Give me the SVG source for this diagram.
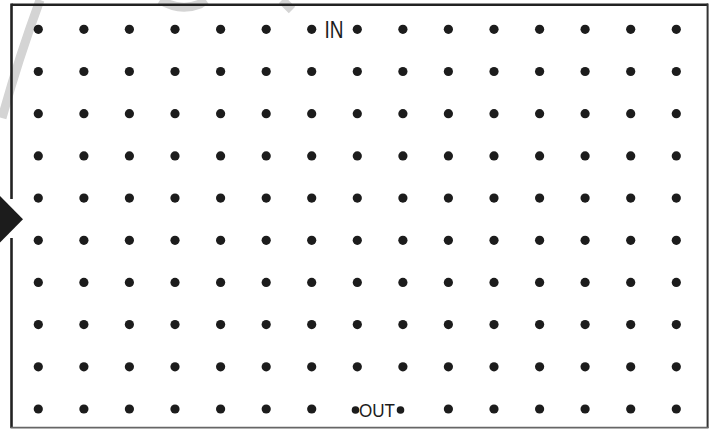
<svg xmlns="http://www.w3.org/2000/svg" xmlns:xlink="http://www.w3.org/1999/xlink" width="716" height="429" viewBox="0 0 716 429">
  <style>
    .dot { fill: #1c1c1c; }
    .sdot { fill: #1c1c1c; }
    .lbl { font-family: "Liberation Sans", "DejaVu Sans", sans-serif; fill: #1c1c1c; }
    .wm { fill: none; stroke: #d4d4d4; stroke-width: 9; stroke-linecap: butt; }
  </style>
  <defs>
    <circle id="d" r="4.6" class="dot"/>
    <g id="row">
      <use xlink:href="#d" x="38.3"/>
      <use xlink:href="#d" x="83.9"/>
      <use xlink:href="#d" x="129.4"/>
      <use xlink:href="#d" x="175.0"/>
      <use xlink:href="#d" x="220.6"/>
      <use xlink:href="#d" x="266.2"/>
      <use xlink:href="#d" x="311.7"/>
      <use xlink:href="#d" x="357.3"/>
      <use xlink:href="#d" x="402.9"/>
      <use xlink:href="#d" x="448.4"/>
      <use xlink:href="#d" x="494.0"/>
      <use xlink:href="#d" x="539.6"/>
      <use xlink:href="#d" x="585.1"/>
      <use xlink:href="#d" x="630.7"/>
      <use xlink:href="#d" x="676.3"/>
    </g>
  </defs>
  <rect width="716" height="429" fill="#ffffff"/>
  <g id="watermark">
    <path class="wm" d="M2,118 Q18,60 40,0"/>
    <path class="wm" d="M160,0 Q180,12 200,4 L206,0"/>
    <path class="wm" d="M282,0 L292,10"/>
  </g>
  <g id="frame">
    <line x1="11.5" y1="4.7" x2="708" y2="4.7" stroke="#222" stroke-width="2.6"/>
    <line x1="11.5" y1="3.5" x2="11.5" y2="199" stroke="#222" stroke-width="2.6"/>
    <line x1="11.5" y1="238" x2="11.5" y2="428" stroke="#222" stroke-width="2.6"/>
    <line x1="707.6" y1="3.5" x2="707.6" y2="428" stroke="#333" stroke-width="2"/>
    <line x1="10.5" y1="427.6" x2="708.5" y2="427.6" stroke="#666" stroke-width="1.6"/>
  </g>
  <g id="grid">
    <use xlink:href="#row" y="29.3"/>
    <use xlink:href="#row" y="71.5"/>
    <use xlink:href="#row" y="113.7"/>
    <use xlink:href="#row" y="155.9"/>
    <use xlink:href="#row" y="198.1"/>
    <use xlink:href="#row" y="240.3"/>
    <use xlink:href="#row" y="282.4"/>
    <use xlink:href="#row" y="324.6"/>
    <use xlink:href="#row" y="366.8"/>
    <g id="lastrow">
      <use xlink:href="#d" x="38.3" y="409"/>
      <use xlink:href="#d" x="83.9" y="409"/>
      <use xlink:href="#d" x="129.4" y="409"/>
      <use xlink:href="#d" x="175.0" y="409"/>
      <use xlink:href="#d" x="220.6" y="409"/>
      <use xlink:href="#d" x="266.2" y="409"/>
      <use xlink:href="#d" x="311.7" y="409"/>
      <use xlink:href="#d" x="448.4" y="409"/>
      <use xlink:href="#d" x="494.0" y="409"/>
      <use xlink:href="#d" x="539.6" y="409"/>
      <use xlink:href="#d" x="585.1" y="409"/>
      <use xlink:href="#d" x="630.7" y="409"/>
      <use xlink:href="#d" x="676.3" y="409"/>
    </g>
  </g>
  <g id="in">
    <text class="lbl" x="324.5" y="38" font-size="24" textLength="19" lengthAdjust="spacingAndGlyphs">IN</text>
  </g>
  <g id="out">
    <circle class="sdot" cx="355.5" cy="410" r="3.8"/>
    <text class="lbl" x="359" y="416.6" font-size="18" textLength="36" lengthAdjust="spacingAndGlyphs">OUT</text>
    <circle class="sdot" cx="400.5" cy="410" r="3.8"/>
  </g>
  <g id="arrow">
    <polygon points="0,196 23,219.3 0,242.5" fill="#1c1c1c"/>
  </g>
</svg>
